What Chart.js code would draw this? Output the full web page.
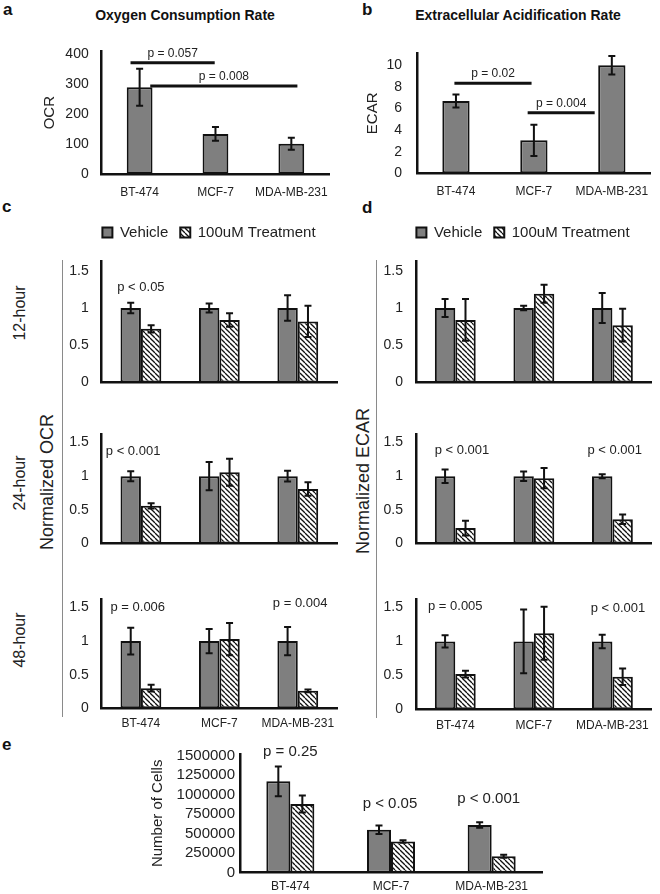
<!DOCTYPE html>
<html>
<head>
<meta charset="utf-8">
<script src="https://cdn.jsdelivr.net/npm/chart.js@4"></script>
<style>
  body { margin: 0; width: 660px; height: 894px; overflow: hidden; background: #fff; position: relative;
         font-family: "Liberation Sans", Arial, sans-serif; color: #222; }
  canvas { position: absolute; }
  .panel { position: absolute; font-weight: bold; font-size: 17px; line-height: 17px; color: #111; }
  .title { position: absolute; font-weight: bold; font-size: 14px; line-height: 14px; transform: translateX(-50%); white-space: nowrap; color: #111; }
  .rot { position: absolute; transform: translate(-50%, -50%) rotate(-90deg); white-space: nowrap; color: #222; }
  .sep { position: absolute; width: 0; border-left: 1.5px solid #8a8a8a; }
</style>
</head>
<body>
<div class="panel" style="left:3px;top:1px">a</div>
<div class="panel" style="left:362px;top:1px">b</div>
<div class="panel" style="left:2px;top:198px">c</div>
<div class="panel" style="left:362px;top:199px">d</div>
<div class="panel" style="left:2px;top:736px">e</div>
<div class="title" style="left:185px;top:8px">Oxygen Consumption Rate</div>
<div class="title" style="left:518px;top:8px">Extracellular Acidification Rate</div>

<div class="sep" style="left:62px;top:260px;height:457px"></div>
<div class="sep" style="left:376px;top:260px;height:458px"></div>
<div class="rot" style="left:20px;top:313px;font-size:16px">12-hour</div>
<div class="rot" style="left:20px;top:483px;font-size:16px">24-hour</div>
<div class="rot" style="left:20px;top:640px;font-size:16px">48-hour</div>
<div class="rot" style="left:47px;top:482px;font-size:18px">Normalized OCR</div>
<div class="rot" style="left:363px;top:481px;font-size:18px">Normalized ECAR</div>

<canvas id="chartA"></canvas>
<canvas id="chartB"></canvas>
<canvas id="chartC12"></canvas>
<canvas id="chartC24"></canvas>
<canvas id="chartC48"></canvas>
<canvas id="chartD12"></canvas>
<canvas id="chartD24"></canvas>
<canvas id="chartD48"></canvas>
<canvas id="chartE"></canvas>

<script>
const cellLines = ["BT-474", "MCF-7", "MDA-MB-231"];

// a / b: basal rates
const ocrMean = [290, 134, 101];
const ocrErr = [62, 23, 20];
const ecarMean = [6.7, 3.05, 10.0];
const ecarErr = [0.6, 1.45, 0.85];

// c: normalized OCR
const ocrVehicle12 = [1, 1, 1];
const ocrVehicle12Err = [0.07, 0.06, 0.17];
const ocrTreat12 = [0.72, 0.84, 0.82];
const ocrTreat12Err = [0.05, 0.09, 0.21];
const ocrVehicle24 = [1, 1, 1];
const ocrVehicle24Err = [0.075, 0.21, 0.08];
const ocrTreat24 = [0.56, 1.06, 0.81];
const ocrTreat24Err = [0.04, 0.2, 0.1];
const ocrVehicle48 = [1, 1, 1];
const ocrVehicle48Err = [0.2, 0.18, 0.21];
const ocrTreat48 = [0.3, 1.03, 0.26];
const ocrTreat48Err = [0.05, 0.24, 0.02];

// d: normalized ECAR
const ecarVehicle12 = [1, 1, 1];
const ecarVehicle12Err = [0.12, 0.03, 0.2];
const ecarTreat12 = [0.84, 1.19, 0.77];
const ecarTreat12Err = [0.28, 0.12, 0.22];
const ecarVehicle24 = [1, 1, 1];
const ecarVehicle24Err = [0.1, 0.07, 0.03];
const ecarTreat24 = [0.23, 0.97, 0.36];
const ecarTreat24Err = [0.11, 0.15, 0.07];
const ecarVehicle48 = [1, 1, 1];
const ecarVehicle48Err = [0.09, 0.47, 0.1];
const ecarTreat48 = [0.52, 1.12, 0.48];
const ecarTreat48Err = [0.05, 0.39, 0.12];

// e: cell counts
const cellsVehicle = [1170000, 550000, 610000];
const cellsVehicleErr = [190000, 55000, 35000];
const cellsTreat = [880000, 400000, 210000];
const cellsTreatErr = [110000, 15000, 20000];

Chart.defaults.font.family = '"Liberation Sans", Arial, sans-serif';
Chart.defaults.color = "#222";

function hatch() {
  const s = 5;
  const c = document.createElement("canvas");
  c.width = s; c.height = s;
  const g = c.getContext("2d");
  g.fillStyle = "#fff";
  g.fillRect(0, 0, s, s);
  g.strokeStyle = "#111";
  g.lineWidth = 1.3;
  for (const k of [-1, 0, 1]) {
    g.beginPath();
    g.moveTo(0, k * s);
    g.lineTo(s, s + k * s);
    g.stroke();
  }
  return g.createPattern(c, "repeat");
}
const stripes = hatch();

// vertical error bars with caps
const errorBars = {
  id: "errorBars",
  afterDatasetsDraw(chart) {
    const ctx = chart.ctx, y = chart.scales.y;
    chart.data.datasets.forEach((ds, i) => {
      if (!ds.errors) return;
      chart.getDatasetMeta(i).data.forEach((bar, j) => {
        const top = y.getPixelForValue(ds.data[j] + ds.errors[j]);
        const bot = y.getPixelForValue(ds.data[j] - ds.errors[j]);
        ctx.save();
        ctx.strokeStyle = "#111";
        ctx.lineWidth = 2;
        ctx.beginPath();
        ctx.moveTo(bar.x, top); ctx.lineTo(bar.x, bot);
        ctx.moveTo(bar.x - 3.5, top); ctx.lineTo(bar.x + 3.5, top);
        ctx.moveTo(bar.x - 3.5, bot); ctx.lineTo(bar.x + 3.5, bot);
        ctx.stroke();
        ctx.restore();
      });
    });
  },
};

// p-value labels and comparison lines, placed in category / value units
const pvalues = {
  id: "pvalues",
  afterDatasetsDraw(chart, args, opts) {
    const ctx = chart.ctx, x = chart.scales.x, y = chart.scales.y;
    const x0 = x.getPixelForValue(0);
    const step = x.getPixelForValue(1) - x0;
    const px = (v) => x0 + v * step;
    ctx.save();
    ctx.fillStyle = "#222";
    ctx.font = (opts.size || 13) + 'px "Liberation Sans", Arial, sans-serif';
    ctx.textAlign = "center";
    ctx.textBaseline = "middle";
    (opts.brackets || []).forEach((b) => {
      const yy = y.getPixelForValue(b.y);
      ctx.strokeStyle = "#111";
      ctx.lineWidth = 3;
      ctx.beginPath();
      ctx.moveTo(px(b.from), yy);
      ctx.lineTo(px(b.to), yy);
      ctx.stroke();
      ctx.fillText(b.text, px((b.from + b.to) / 2), yy - 9.5);
    });
    (opts.texts || []).forEach((t) => ctx.fillText(t.text, px(t.x), y.getPixelForValue(t.y)));
    ctx.restore();
  },
};

// extra room under the legend, and move it over the wanted centre
const legendGap = {
  id: "legendGap",
  beforeInit(chart, args, opts) {
    const fit = chart.legend.fit;
    chart.legend.fit = function () {
      fit.call(this);
      this.height += opts.extra;
    };
  },
  afterLayout(chart, args, opts) {
    const lg = chart.legend;
    const shift = opts.centerX - (lg.left + lg.right) / 2;
    lg.left += shift;
    lg.right += shift;
  },
};

function drawBars(id, box, plot, datasets, o) {
  const cv = document.getElementById(id);
  cv.style.left = box.L + "px";
  cv.style.top = box.T + "px";
  cv.width = box.W;
  cv.height = box.H;
  const legendOn = !!o.legend;
  const plugins = [errorBars, pvalues];
  if (legendOn) plugins.push(legendGap);
  return new Chart(cv, {
    type: "bar",
    data: { labels: cellLines, datasets: datasets },
    plugins: plugins,
    options: {
      responsive: false,
      animation: false,
      events: [],
      devicePixelRatio: 1,
      layout: {
        padding: {
          left: 0,
          top: legendOn ? 0 : plot.t - box.T,
          right: box.L + box.W - plot.r,
          bottom: 0,
        },
      },
      categoryPercentage: o.catPct,
      barPercentage: o.barPct,
      plugins: {
        legend: legendOn
          ? {
              display: true,
              labels: { font: { size: 15 }, boxWidth: 10, boxHeight: 10, padding: 12, color: "#222" },
            }
          : { display: false },
        legendGap: { extra: legendOn ? plot.t - box.T - 37 : 0, centerX: o.legend ? o.legend.centerX - box.L : 0 },
        tooltip: { enabled: false },
        pvalues: o.pv || {},
      },
      scales: {
        x: {
          grid: { display: false, drawTicks: false },
          border: { color: "#111", width: 2.5 },
          ticks: {
            display: !!o.xLabels,
            padding: o.xPad || 8,
            font: { size: 12 },
            color: "#222",
            maxRotation: 0,
            autoSkip: false,
          },
          afterFit: (s) => { s.height = box.T + box.H - plot.b; },
        },
        y: {
          min: 0,
          max: o.max,
          grid: { display: false, drawTicks: false },
          border: { color: "#111", width: 2.5 },
          ticks: {
            padding: o.yPad,
            color: "#222",
            autoSkip: false,
            font: { size: o.tickSize || 14 },
            callback: (v) => String(v),
          },
          afterBuildTicks: (s) => {
            const t = [];
            for (let i = 0; i * o.step <= o.max; i++) t.push({ value: Math.round(i * o.step * 1e6) / 1e6 });
            s.ticks = t;
          },
          title: o.yTitle
            ? { display: true, text: o.yTitle, color: "#222", font: { size: o.yTitleSize || 15 } }
            : { display: false },
          afterFit: (s) => { s.width = plot.l - box.L; },
        },
      },
    },
  });
}

function single(data, errors) {
  return [{ label: "mean", data: data, errors: errors, backgroundColor: "#7f7f7f",
            borderColor: "#111", borderWidth: 2, borderSkipped: false }];
}
function pair(v, vErr, t, tErr) {
  return [
    { label: "Vehicle", data: v, errors: vErr, backgroundColor: "#7f7f7f",
      borderColor: "#111", borderWidth: 2, borderSkipped: false },
    { label: "100uM Treatment", data: t, errors: tErr, backgroundColor: stripes,
      borderColor: "#111", borderWidth: 2, borderSkipped: false },
  ];
}

// a
drawBars("chartA", { L: 37, T: 30, W: 302, H: 180 }, { l: 101.7, r: 337, t: 40, b: 174 },
  single(ocrMean, ocrErr), {
    max: 410, step: 100, yPad: 13, yTitle: "OCR", xLabels: true, xPad: 11,
    catPct: 1, barPct: 0.34,
    pv: { size: 12, brackets: [
      { from: -0.12, to: 0.99, y: 372, text: "p = 0.057" },
      { from: 0.14, to: 2.08, y: 294, text: "p = 0.008" },
    ] },
  });

// b
drawBars("chartB", { L: 360, T: 30, W: 300, H: 180 }, { l: 417, r: 655, t: 40, b: 173.3 },
  single(ecarMean, ecarErr), {
    max: 11.1, step: 2, yPad: 15, yTitle: "ECAR", xLabels: true, xPad: 11,
    catPct: 1, barPct: 0.35,
    pv: { size: 12, brackets: [
      { from: -0.02, to: 0.97, y: 8.33, text: "p = 0.02" },
      { from: 0.92, to: 1.78, y: 5.6, text: "p = 0.004" },
    ] },
  });

// c
const grp = { max: 1.62, step: 0.5, yPad: 13, catPct: 0.52, barPct: 1 };
drawBars("chartC12", { L: 65, T: 213, W: 288, H: 191 }, { l: 101.7, r: 337, t: 261.7, b: 393.3 },
  pair(ocrVehicle12, ocrVehicle12Err, ocrTreat12, ocrTreat12Err),
  Object.assign({}, grp, { legend: { centerX: 209 }, pv: { texts: [{ x: 0, y: 1.275, text: "p < 0.05" }] } }));
drawBars("chartC24", { L: 65, T: 413, W: 288, H: 152 }, { l: 101.7, r: 337, t: 423.3, b: 555 },
  pair(ocrVehicle24, ocrVehicle24Err, ocrTreat24, ocrTreat24Err),
  Object.assign({}, grp, { pv: { texts: [{ x: -0.1, y: 1.37, text: "p < 0.001" }] } }));
drawBars("chartC48", { L: 65, T: 578, W: 288, H: 160 }, { l: 101.7, r: 337, t: 588, b: 708.3 },
  pair(ocrVehicle48, ocrVehicle48Err, ocrTreat48, ocrTreat48Err),
  Object.assign({}, grp, { xLabels: true, xPad: 8, pv: { texts: [
    { x: -0.04, y: 1.5, text: "p = 0.006" },
    { x: 2.03, y: 1.56, text: "p = 0.004" },
  ] } }));

// d
drawBars("chartD12", { L: 382, T: 213, W: 278, H: 191 }, { l: 416, r: 651.7, t: 261.7, b: 393.3 },
  pair(ecarVehicle12, ecarVehicle12Err, ecarTreat12, ecarTreat12Err),
  Object.assign({}, grp, { legend: { centerX: 523 } }));
drawBars("chartD24", { L: 382, T: 413, W: 278, H: 152 }, { l: 416, r: 651.7, t: 423.3, b: 555 },
  pair(ecarVehicle24, ecarVehicle24Err, ecarTreat24, ecarTreat24Err),
  Object.assign({}, grp, { pv: { texts: [
    { x: 0.085, y: 1.38, text: "p < 0.001" },
    { x: 2.03, y: 1.38, text: "p < 0.001" },
  ] } }));
drawBars("chartD48", { L: 382, T: 578, W: 278, H: 160 }, { l: 416, r: 651.7, t: 588, b: 709.3 },
  pair(ecarVehicle48, ecarVehicle48Err, ecarTreat48, ecarTreat48Err),
  Object.assign({}, grp, { xLabels: true, xPad: 9, pv: { texts: [
    { x: 0, y: 1.51, text: "p = 0.005" },
    { x: 2.07, y: 1.48, text: "p < 0.001" },
  ] } }));

// e
drawBars("chartE", { L: 145, T: 740, W: 400, H: 154 }, { l: 240, r: 542, t: 751.7, b: 872.7 },
  pair(cellsVehicle, cellsVehicleErr, cellsTreat, cellsTreatErr), {
    max: 1520000, step: 250000, yPad: 5, tickSize: 15, yTitle: "Number of Cells", yTitleSize: 15,
    xLabels: true, xPad: 7, catPct: 0.477, barPct: 1,
    pv: { size: 15, texts: [
      { x: 0, y: 1543000, text: "p = 0.25" },
      { x: 0.99, y: 876000, text: "p < 0.05" },
      { x: 1.97, y: 940000, text: "p < 0.001" },
    ] },
  });
</script>
</body>
</html>
